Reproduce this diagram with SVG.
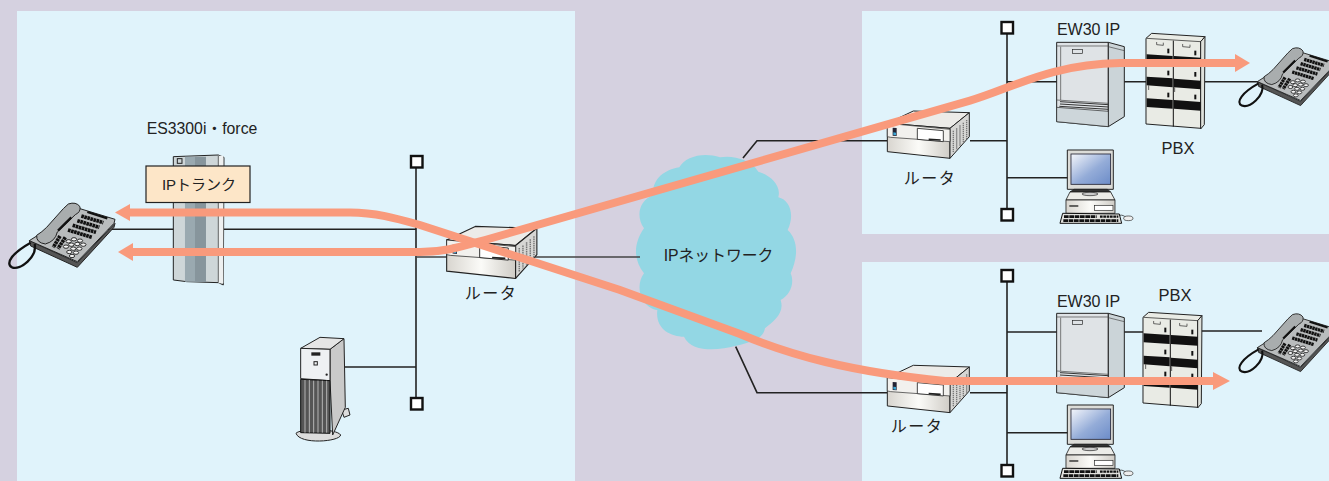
<svg xmlns="http://www.w3.org/2000/svg" width="1329" height="481" viewBox="0 0 1329 481">
<style>
text{font-family:"Liberation Sans","Noto Sans CJK JP",sans-serif;fill:#222;text-anchor:middle}
.l{fill:none;stroke:#222;stroke-width:1.6}
.d{fill:none;stroke:#444;stroke-width:1.6}
.f{fill:none;stroke:#f99a7c;stroke-width:8}
.h{fill:#f99a7c}
.o{stroke:#222;stroke-width:3;stroke-linejoin:round}
.t{stroke:#111;stroke-width:2;fill:none}
.sq{fill:#fff;stroke:#111;stroke-width:2.4}
</style>
<defs>
<linearGradient id="bands" x1="0" x2="1" y1="0" y2="0">
<stop offset="0" stop-color="#d8d5cf"/><stop offset=".5" stop-color="#fbfbf8"/><stop offset="1" stop-color="#cfccc6"/>
</linearGradient>
<linearGradient id="scr" x1="0" y1="0" x2="1" y2="1">
<stop offset="0" stop-color="#f4f6fb"/><stop offset=".55" stop-color="#94acd8"/><stop offset="1" stop-color="#6c8cc8"/>
</linearGradient>
<g id="phone">
<path class="o" fill="#555" d="M88,392 L232,458 L345,340 L342,352 L232,472 L92,408Z"/>
<path class="o" fill="#b9bcbd" d="M240,296 L345,328 L342,340 L232,455 L88,392Z"/>
<g stroke="#111" stroke-width="11" stroke-dasharray="8 1.500" fill="none">
<path d="M244,318 L310,338"/><path d="M232,332 L298,352"/><path d="M218,346 L288,367"/><path d="M204,360 L276,382"/>
<path d="M180,378 L160,412"/><path d="M196,382 L174,416"/>
</g>
<path stroke="#111" stroke-width="7" d="M262,306 L322,325"/>
<g fill="#f4f4f4" stroke="#111" stroke-width="2.5">
<ellipse cx="240" cy="392" rx="8" ry="5"/><ellipse cx="222" cy="388" rx="8" ry="5"/><ellipse cx="206" cy="394" rx="8" ry="5"/>
<ellipse cx="250" cy="404" rx="8" ry="5"/><ellipse cx="232" cy="402" rx="8" ry="5"/><ellipse cx="214" cy="404" rx="8" ry="5"/>
<ellipse cx="238" cy="416" rx="8" ry="5"/><ellipse cx="220" cy="416" rx="8" ry="5"/><ellipse cx="198" cy="410" rx="8" ry="5"/>
<ellipse cx="228" cy="428" rx="8" ry="5"/><ellipse cx="208" cy="426" rx="8" ry="5"/><ellipse cx="216" cy="438" rx="8" ry="5"/>
</g>
<path fill="none" stroke="#111" stroke-width="7" stroke-linejoin="round" d="M104,402 C112,440 62,482 36,472 C14,460 38,428 92,398"/>
<path class="o" fill="#a9adae" d="M205,282 Q228,274 240,290 Q243,306 226,314 L172,366 Q166,394 136,402 Q108,398 110,376 Q126,366 140,352 L190,296Z"/>
<path fill="none" stroke="#111" stroke-width="7" d="M214,322 L174,362"/>
</g>
<g id="router">
<path class="o" fill="#ecebe8" d="M52,100 L130,63 L298,68 L240,115Z"/>
<path class="o" fill="url(#bands)" d="M52,100 L240,115 L240,205 L52,185Z"/>
<path class="o" fill="#d6d6d4" d="M240,115 L298,68 L298,140 L240,205Z"/>
<path fill="#f2f1ee" stroke="#222" stroke-width="2" d="M52,100 L240,118 L240,155 L62,142 L52,140Z"/>
<path fill="#fff" stroke="#222" stroke-width="2.5" d="M142,115 L220,122 L220,155 L142,148Z"/>
<path stroke="#222" stroke-width="5" d="M176,148 L212,150"/>
<path fill="#223" d="M68,113 L80,114 L80,138 L68,137Z"/><path fill="#3aa6d6" d="M70,127 L78,128 L78,136 L70,135Z"/>
<g stroke="#777" stroke-width="4" stroke-dasharray="4 2" fill="none">
<path d="M250,122 L250,188"/><path d="M260,115 L260,178"/><path d="M270,106 L270,168"/><path d="M280,98 L280,158"/><path d="M290,90 L290,148"/>
</g>
</g>
<g id="ew30">
<path class="o" fill="#dfe3e6" d="M50,97 L205,97 L205,350 L50,335Z"/>
<path class="o" fill="#cbd4d8" d="M205,97 L253,110 L253,320 L205,350Z"/>
<path fill="#cdd6da" stroke="#222" stroke-width="2" d="M50,292 L205,304 L205,350 L50,335Z"/>
<path fill="none" stroke="#444" stroke-width="2" d="M50,108 L205,108 M62,110 L62,270 M50,270 L205,280 M205,110 L253,122"/>
<path fill="none" stroke="#333" stroke-width="3" d="M60,275 L205,284 M60,282 L205,291 M58,289 L205,298"/>
<rect x="98" y="118" width="30" height="12" fill="#dfe3e6" stroke="#222" stroke-width="2"/>
</g>
<g id="pbx">
<path class="o" fill="#e9ebe5" d="M318,85 L335,70 L495,80 L482,95 L482,355 L318,342Z"/>
<path class="o" fill="#dfe1db" d="M482,95 L495,80 L493,344 L482,357Z"/>
<path fill="#fff" stroke="#111" stroke-width="2" d="M320,85 L482,95"/>
<path fill="#111" d="M320,133 L398,138 L398,165 L320,160Z M402,138 L482,143 L482,170 L402,165Z M320,200 L398,205 L398,232 L320,226Z M402,206 L482,212 L482,238 L402,232Z M320,265 L398,270 L398,296 L320,291Z M402,270 L482,276 L482,302 L402,296Z"/>
<path stroke="#111" stroke-width="3" d="M400,92 L400,350"/>
<g fill="#111"><rect x="382" y="116" width="6" height="14"/><rect x="463" y="122" width="6" height="14"/><rect x="382" y="182" width="6" height="14"/><rect x="463" y="186" width="6" height="14"/><rect x="382" y="248" width="6" height="14"/><rect x="463" y="254" width="6" height="14"/></g>
<path fill="none" stroke="#222" stroke-width="2" d="M350,96 L350,104 L370,106 L370,98 M428,102 L428,110 L450,112 L450,104 M326,240 L326,226 M404,246 L404,232"/>
</g>
<g id="pc">
<path class="o" fill="#dcdcd8" d="M592,180 H730 V298 H592Z"/>
<rect x="603" y="192" width="119" height="91" fill="url(#scr)" stroke="#223" stroke-width="2.5"/>
<path fill="#333" stroke="#222" stroke-width="2.5" d="M612,298 L712,298 L722,306 L600,306Z"/>
<path fill="#ecece8" stroke="#222" stroke-width="2.5" d="M600,306 L722,306 L735,330 L588,330Z"/>
<ellipse cx="660" cy="312" rx="24" ry="5" fill="#ccc" stroke="#222" stroke-width="2"/>
<path fill="url(#bands)" stroke="#222" stroke-width="2.5" d="M588,330 H735 V370 H588Z"/>
<path stroke="#222" stroke-width="4" d="M598,348 H625"/><rect x="674" y="346" width="55" height="15" fill="#fff" stroke="#222" stroke-width="2"/>
<path fill="#e2e2de" stroke="#111" stroke-width="3" d="M578,370 L748,372 L755,400 L570,400Z"/>
<path stroke="#111" stroke-width="8" stroke-dasharray="14 2" d="M582,380 H680 M580,392 H745"/><path stroke="#111" stroke-width="7" stroke-dasharray="8 2" d="M690,380 H745"/>
<path class="t" d="M748,376 C758,374 762,378 768,382"/>
<ellipse cx="775" cy="385" rx="14" ry="7" fill="#eee" stroke="#222" stroke-width="2"/>
</g>
</defs>

<rect width="1329" height="481" fill="#d5d1e0"/>
<g id="panels" fill="#e0f3fb">
<rect x="17" y="11" width="558" height="470"/>
<rect x="862" y="11" width="467" height="223"/>
<rect x="862" y="262" width="467" height="219"/>
</g>

<g id="cloud">
<path fill="#93d7e4" transform="translate(620,140) scale(.3333)" d="M178,82 C195,50 250,35 300,52 C340,45 395,60 415,95 C450,105 485,135 475,172 C510,180 525,225 503,270 C535,300 535,350 512,400 C525,430 510,465 482,480 C495,520 460,545 435,565 C430,595 400,605 345,618 C300,630 215,640 192,590 C150,590 105,565 112,510 C70,505 40,445 72,400 C40,360 40,310 72,265 C45,225 60,180 100,165 C95,120 130,90 178,82Z"/>
<text x="718.500" y="261" font-size="15.800">IPネットワーク</text>
</g>

<g id="connectors">
<path class="l" d="M105,229.3 H416 M416,167 V397 M345,367 H416"/>
<path class="d" d="M416,257 H447 M516,257 H640"/>
<path class="l" d="M743,158 L757,140.7 H887 M970,140.7 H1007 M1007,33 V208 M1007,177.7 H1068 M1007,81.7 H1057 M1124,81.7 H1146 M1205,81.7 H1262"/>
<path class="l" d="M735.7,346.7 L757,392.7 H887 M970,392.7 H1007 M1007,282 V464 M1007,432.7 H1068 M1007,332 H1057 M1124,332 H1143 M1201,331 H1262"/>
<rect class="sq" x="411" y="156" width="11.5" height="11.5"/>
<rect class="sq" x="411" y="398" width="11.5" height="11.5"/>
<rect class="sq" x="1001.5" y="22" width="11.5" height="11.5"/>
<rect class="sq" x="1001.5" y="209" width="11.5" height="11.5"/>
<rect class="sq" x="1001.5" y="270" width="11.5" height="11.5"/>
<rect class="sq" x="1001.5" y="465" width="11.5" height="11.5"/>
</g>

<g id="es3300">
<g transform="translate(0,110) scale(.3333)">
<path class="o" fill="#ced6d8" d="M520,140 L655,135 L672,142 L670,525 L655,518 L560,515 L520,510Z"/>
<path fill="#9aa9b0" d="M555,140 H585 V515 H555Z"/><path fill="#87959c" d="M585,140 H618 V516 H585Z"/><path fill="#eef0f0" d="M655,137 H670 V520 H655Z"/>
<rect x="532" y="146" width="14" height="14" fill="none" stroke="#222" stroke-width="3"/>
<path stroke="#222" stroke-width="2" d="M655,137 V518"/>
</g>
<text x="202" y="134" font-size="15.800">ES3300i・force</text>
<rect x="146" y="166" width="104" height="36.500" fill="#fde6c8" stroke="#222" stroke-width="1.2"/>
<text x="199" y="190" font-size="15">IPトランク</text>
</g>
<g id="phone-left"><use href="#phone" transform="translate(0,110) scale(.3333)"/></g>
<g id="ups" transform="translate(280,320) scale(.3333)">
<path class="o" fill="#dcdcdc" d="M48,340 C60,325 170,325 182,345 C180,365 60,375 48,340Z"/>
<path class="o" fill="#ddd" d="M185,270 L205,265 L210,285 L192,292Z"/>
<path class="o" fill="#c9c9c9" d="M150,88 L192,56 L196,262 L158,345 L150,180Z"/>
<path class="o" fill="#e5e5e5" d="M62,85 L120,52 L192,56 L150,88Z"/>
<path class="o" fill="#eef1f3" d="M62,85 L150,88 L150,182 L62,176Z"/>
<path fill="#555" stroke="#111" stroke-width="3" d="M62,178 L150,182 L150,340 L62,338Z"/>
<path stroke="#c8c8c8" stroke-width="2.500" d="M75,180 V338 M88,180 V338 M101,182 V338 M114,182 V338 M127,182 V338 M140,182 V338"/>
<rect x="94" y="97" width="27" height="10" fill="#222"/>
<rect x="102" y="125" width="10" height="10" fill="none" stroke="#222" stroke-width="3"/>
<circle cx="140" cy="164" r="3.500" fill="#222"/>
</g>
<g id="router-left"><use href="#router" transform="translate(427.600,203.300) scale(.3667)"/><text x="491" y="299" font-size="16" letter-spacing="1.500">ルータ</text></g>
<g id="router-top"><use href="#router" transform="translate(870,90) scale(.3333)"/><text x="930" y="184" font-size="16" letter-spacing="1.500">ルータ</text></g>
<g id="router-bottom"><use href="#router" transform="translate(870,344.300) scale(.3333)"/><text x="917" y="432" font-size="16" letter-spacing="1.500">ルータ</text></g>
<g id="ew30-top"><use href="#ew30" transform="translate(1040,10) scale(.3333)"/><text x="1088.500" y="35" font-size="16">EW30 IP</text></g>
<g id="ew30-bottom"><use href="#ew30" transform="translate(1040,281) scale(.3333)"/><text x="1088.500" y="307" font-size="16">EW30 IP</text></g>
<g id="pbx-top"><use href="#pbx" transform="translate(1040,10) scale(.3333)"/><text x="1178" y="154" font-size="16.500">PBX</text></g>
<g id="pbx-bottom"><use href="#pbx" transform="translate(1037,289) scale(.3333)"/><text x="1175" y="301" font-size="16.500">PBX</text></g>
<g id="phone-top"><use href="#phone" transform="translate(1231,-36) scale(.3)"/></g>
<g id="phone-bottom"><use href="#phone" transform="translate(1231,230) scale(.3)"/></g>
<g id="pc-top"><use href="#pc" transform="translate(870,90) scale(.3333)"/></g>
<g id="pc-bottom"><use href="#pc" transform="translate(870,345) scale(.3333)"/></g>

<g id="flows">
<path class="f" d="M128,212.500 L350,212.500 C375,212.500 395,218 420,225 L620,290 L740,334 C790,355 850,372 945,381 L1215,381"/>
<polygon class="h" points="115,212.500 130,204 130,221"/>
<polygon class="h" points="1230,381 1213,372 1213,390"/>
<path class="f" d="M130,252 L420,252 C445,252 460,247 485,240 L970,100.600 C1010,89 1050,64 1120,63 L1237,63"/>
<polygon class="h" points="118,252 133,243 133,261"/>
<polygon class="h" points="1250,63 1235,54 1235,72"/>
</g>
</svg>
